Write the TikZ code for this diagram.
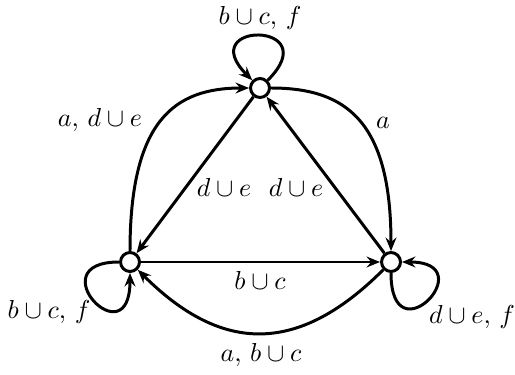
\documentclass[tikz,border=0pt]{standalone}
\usetikzlibrary{arrows.meta}
\begin{document}
\begin{tikzpicture}[x=0.385pt,y=0.385pt,
  state/.style={circle,draw,line width=1.15pt,fill=white,minimum size=7.3pt,inner sep=0pt},
  arr/.style={line width=1.15pt,-{Stealth[length=5.2pt,width=4.2pt,inset=1.8pt]}},
  lab/.style={inner sep=0pt}]
\useasboundingbox (0,0) rectangle (515,374);
\node[state] (T) at (260,286) {};
\node[state] (L) at (130,112) {};
\node[state] (R) at (391,112) {};
% loops
\draw[arr] (T.45) .. controls +(45:84) and +(135:84) .. (T.135);
\draw[arr] (L.180) .. controls +(180:82) and +(270:87) .. (L.270);
\draw[arr] (R.270) .. controls +(270:87) and +(0:82) .. (R.0);
% curved edges
\draw[arr] (L.90) .. controls +(90:130) and +(180:75) .. (T.180);
\draw[arr] (T.0) .. controls +(0:75) and +(90:130) .. (R.90);
\draw[arr] (R) to[out=225,in=315,looseness=1.25] (L);
% straight edges
\draw[arr] (T) -- (L);
\draw[arr] (R) -- (T);
\draw[arr] (L) -- (R);
% labels
\node[lab] (lt) at (260,356) {$b\cup c,\, f$};
\node[lab] (lld) at (100,254) {$a,\, d\cup e$};
\node[lab] (lra) at (383,251) {$a$};
\node[lab] (ld1) at (224,187) {$d\cup e$};
\node[lab] (ld2) at (296,187) {$d\cup e$};
\node[lab] (lbc) at (260,94) {$b\cup c$};
\node[lab] (lab2) at (261,19) {$a,\, b\cup c$};
\node[lab] (lll) at (49,62) {$b\cup c,\, f$};
\node[lab] (lrl) at (472,57) {$d\cup e,\, f$};
\end{tikzpicture}
\end{document}
